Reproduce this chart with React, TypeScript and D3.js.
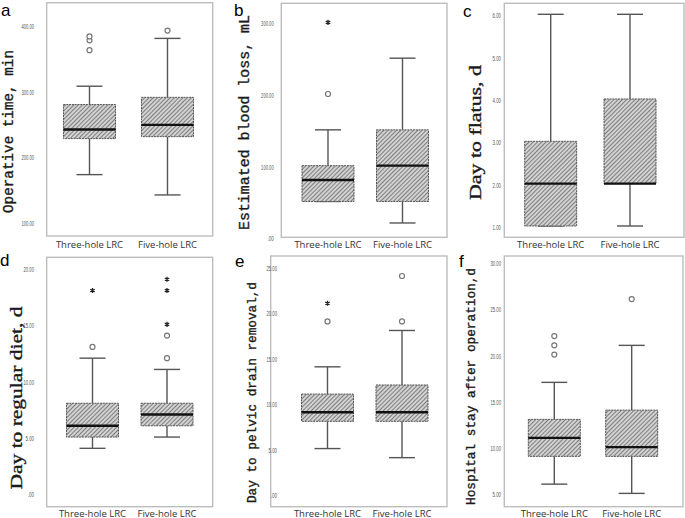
import React from "react";
import * as d3 from "d3";

const categories = ["Three-hole LRC", "Five-hole LRC"];

// [low whisker, Q1, median, Q3, high whisker] per group
const opTimeStats = [[172, 227, 241, 279, 307], [141, 230, 248, 290, 380]];
const opTimeCircles = [[362, 377, 383], [392]];
const opTimeStars = [[], []];
const opTimeTicks = [100, 200, 300, 400];

const bloodStats = [[50, 50, 80, 100, 150], [20, 50, 100, 150, 250]];
const bloodCircles = [[200], []];
const bloodStars = [[300], []];
const bloodTicks = [0, 100, 200, 300];

const flatusStats = [[1, 1, 2, 3, 6], [1, 2, 2, 4, 6]];
const flatusCircles = [[], []];
const flatusStars = [[], []];
const flatusTicks = [1, 2, 3, 4, 5, 6];

const dietStats = [[4, 5, 6, 8, 12], [5, 6, 7, 8, 11]];
const dietCircles = [[13], [12, 14]];
const dietStars = [[18], [15, 18, 19]];
const dietTicks = [0, 5, 10, 15, 20];

const drainStats = [[5, 8, 9, 11, 14], [4, 8, 9, 12, 18]];
const drainCircles = [[19], [19, 24]];
const drainStars = [[21], []];
const drainTicks = [0, 5, 10, 15, 20, 25];

const stayStats = [[6, 9, 11, 13, 17], [5, 9, 10, 14, 21]];
const stayCircles = [[20, 21, 22], [26]];
const stayStars = [[], []];
const stayTicks = [5, 10, 15, 20, 25, 30];

const panels = [
  { letter: "a", title: "Operative time, min", mono: true, stats: opTimeStats, circles: opTimeCircles, stars: opTimeStars, ticks: opTimeTicks,
    frame: [46.7, 2.7, 212.7, 236], domain: [78.3, 434.5], centers: [89.5, 167.5], tickX: 34, catY: 244,
    letterPos: [1, 16], titlePos: [9, 131.5], titleLen: 163, titleSize: 14.3 },
  { letter: "b", title: "Estimated blood loss, mL", mono: true, stats: bloodStats, circles: bloodCircles, stars: bloodStars, ticks: bloodTicks,
    frame: [281.3, 3.3, 447, 237.3], domain: [0, 326.6], centers: [328, 402.5], tickX: 273.7, catY: 244,
    letterPos: [234, 16], titlePos: [245, 122.5], titleLen: 215, titleSize: 15 },
  { letter: "c", title: "Day to flatus, d", mono: false, stats: flatusStats, circles: flatusCircles, stars: flatusStars, ticks: flatusTicks,
    frame: [504.3, 3.3, 684, 237.3], domain: [0.733, 6.26], centers: [550.7, 630], tickX: 501, catY: 244,
    letterPos: [463, 17], titlePos: [475, 132.5], titleLen: 135, titleSize: 16 },
  { letter: "d", title: "Day to regular diet, d", mono: false, stats: dietStats, circles: dietCircles, stars: dietStars, ticks: dietTicks,
    frame: [46.7, 257.3, 212.7, 506.7], domain: [-1.18, 20.95], centers: [92.5, 167], tickX: 34, catY: 513,
    letterPos: [0, 266], titlePos: [16, 398], titleLen: 183, titleSize: 16 },
  { letter: "e", title: "Day to pelvic drain removal,d", mono: true, stats: drainStats, circles: drainCircles, stars: drainStars, ticks: drainTicks,
    frame: [270.7, 256, 447, 506.7], domain: [-1.4, 26.2], centers: [327.5, 402], tickX: 277, catY: 513,
    letterPos: [235, 267], titlePos: [252, 392.5], titleLen: 221, titleSize: 13 },
  { letter: "f", title: "Hospital stay after operation,d", mono: true, stats: stayStats, circles: stayCircles, stars: stayStars, ticks: stayTicks,
    frame: [504.3, 256, 683, 506.7], domain: [3.56, 30.66], centers: [554.3, 631.7], tickX: 501, catY: 513,
    letterPos: [459, 267], titlePos: [471, 386.5], titleLen: 237, titleSize: 13 },
];

const BOX_W = 52;
const fmt = (d: number) => (d === 0 ? ".00" : d.toFixed(2));
const starPath = d3.symbol().type(d3.symbolAsterisk).size(18)() as string;

function Panel({ p }: { p: any }) {
  const [x0, y0, x1, y1] = p.frame;
  const y = d3.scaleLinear().domain(p.domain).range([y1, y0]);
  const x = d3.scalePoint<string>().domain(categories).range(p.centers);
  const hw = BOX_W / 2;
  const cw = BOX_W / 4;
  return (
    <g>
      <rect x={x0} y={y0} width={x1 - x0} height={y1 - y0} fill="#fff" stroke="#bdbdbd" strokeWidth={1.4} />
      {p.ticks.map((t: number) => {
        const s = fmt(t);
        return (
          <text key={t} x={p.tickX} y={y(t) + 1.5} textAnchor="end" dominantBaseline="central"
            fontFamily="Liberation Sans" fontSize={7} fill="#555"
            textLength={s.length * 2.1} lengthAdjust="spacingAndGlyphs">{s}</text>
        );
      })}
      {categories.map((c, i) => {
        const cx = x(c) as number;
        const [lo, q1, med, q3, hi] = p.stats[i];
        return (
          <g key={c}>
            <line x1={cx} x2={cx} y1={y(hi)} y2={y(q3)} stroke="#555" strokeWidth={1.4} />
            <line x1={cx} x2={cx} y1={y(q1)} y2={y(lo)} stroke="#555" strokeWidth={1.4} />
            <line x1={cx - cw} x2={cx + cw} y1={y(hi)} y2={y(hi)} stroke="#555" strokeWidth={1.4} />
            <line x1={cx - cw} x2={cx + cw} y1={y(lo)} y2={y(lo)} stroke="#555" strokeWidth={1.4} />
            <rect x={cx - hw} y={y(q3)} width={BOX_W} height={y(q1) - y(q3)} fill={`url(#hatch)`}
              stroke="#555" strokeWidth={1} strokeDasharray="2 0.8" />
            <line x1={cx - hw} x2={cx + hw} y1={y(med)} y2={y(med)} stroke="#111" strokeWidth={2.4} />
            {p.circles[i].map((v: number, k: number) => (
              <circle key={"c" + k} cx={cx} cy={y(v)} r={2.5} fill="#fff" stroke="#777" strokeWidth={1.2} />
            ))}
            {p.stars[i].map((v: number, k: number) => (
              <path key={"s" + k} d={starPath} transform={`translate(${cx},${y(v)})`} stroke="#222" strokeWidth={1.3} fill="none" />
            ))}
            <text x={cx} y={p.catY} textAnchor="middle" dominantBaseline="central"
              fontFamily="Open Sans" fontSize={9.5} fill="#333">{c}</text>
          </g>
        );
      })}
      <text x={p.letterPos[0]} y={p.letterPos[1]} fontFamily="Liberation Sans" fontSize={17} fill="#000">{p.letter}</text>
      <text transform={`translate(${p.titlePos[0]},${p.titlePos[1]}) rotate(-90)`} textAnchor="middle" dominantBaseline="central"
        fontFamily={p.mono ? "Liberation Mono" : "Liberation Serif"} fontSize={p.titleSize} fill="#1a1a1a"
        stroke="#1a1a1a" strokeWidth={0.35}
        textLength={p.titleLen} lengthAdjust="spacingAndGlyphs">{p.title}</text>
    </g>
  );
}

export default function App() {
  return (
    <svg width={685} height={518} style={{ position: "absolute", left: 0, top: 0, background: "#fff" }}>
      <defs>
        <pattern id="hatch" patternUnits="userSpaceOnUse" width={3} height={3} patternTransform="rotate(45)">
          <rect width={3} height={3} fill="#d2d2d2" />
          <line x1={0.5} y1={0} x2={0.5} y2={3} stroke="#7d7d7d" strokeWidth={1} />
        </pattern>
      </defs>
      <rect width={685} height={518} fill="#fff" />
      {panels.map((p) => <Panel key={p.letter} p={p} />)}
    </svg>
  );
}
